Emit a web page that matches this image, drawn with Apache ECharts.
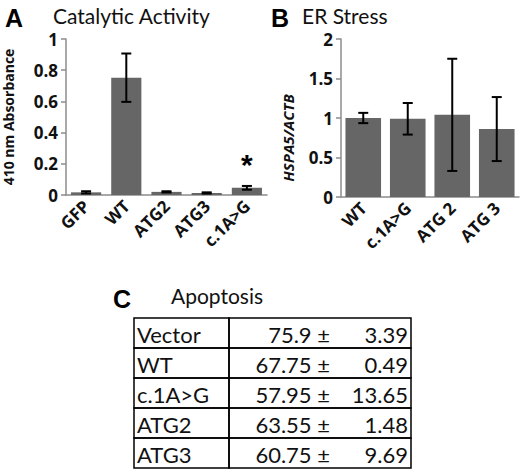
<!DOCTYPE html>
<html>
<head>
<meta charset="utf-8">
<script src="https://cdn.jsdelivr.net/npm/echarts@6/dist/echarts.min.js"></script>
<style>
html, body { margin: 0; padding: 0; background: #fff; }
#main { width: 520px; height: 472px; }
</style>
</head>
<body>
<div id="main"></div>
<script>
// panel A: catalytic activity
var catalyticCats = ['GFP', 'WT', 'ATG2', 'ATG3', 'c.1A>G'];
var catalyticVals = [0.017, 0.752, 0.02, 0.013, 0.046];
var catalyticErr = [0.007, 0.155, 0.004, 0.004, 0.012];
var catalyticSig = ['', '', '', '', '*'];

// panel B: ER stress
var stressCats = ['WT', 'c.1A>G', 'ATG 2', 'ATG 3'];
var stressVals = [1.0, 0.99, 1.04, 0.86];
var stressErr = [0.065, 0.2, 0.71, 0.405];

// panel C: apoptosis table
var apoLabels = ['Vector', 'WT', 'c.1A>G', 'ATG2', 'ATG3'];
var apoMeans = ['75.9', '67.75', '57.95', '63.55', '60.75'];
var apoSD = ['3.39', '0.49', '13.65', '1.48', '9.69'];

var FONT = 'Lato';
var BOLD = 'Open Sans';
var barColor = '#666666';
var axisGray = '#8c8c8c';

var errorBars = function (sig) {
    return function (params, api) {
        var x = api.value(0);
        var v = api.value(1);
        var e = api.value(2);
        var top = api.coord([x, v + e]);
        var bot = api.coord([x, v - e]);
        var cap = 5;
        var st = { stroke: '#000', lineWidth: 2 };
        var children = [
            { type: 'line', shape: { x1: top[0], y1: top[1], x2: bot[0], y2: bot[1] }, style: st },
            { type: 'line', shape: { x1: top[0] - cap, y1: top[1], x2: top[0] + cap, y2: top[1] }, style: st },
            { type: 'line', shape: { x1: bot[0] - cap, y1: bot[1], x2: bot[0] + cap, y2: bot[1] }, style: st }
        ];
        var s = sig ? sig[params.dataIndex] : '';
        if (s) {
            children.push({
                type: 'text',
                style: {
                    x: top[0], y: top[1] - 21, text: s,
                    font: 'bold 30px Arial', fill: '#000',
                    align: 'center', verticalAlign: 'middle'
                }
            });
        }
        return { type: 'group', children: children };
    };
};

var errData = function (vals, errs) {
    return vals.map(function (v, i) { return [i, v, errs[i]]; });
};

var xAxisBase = function (cats, idx) {
    return {
        type: 'category', gridIndex: idx, data: cats,
        axisLine: { lineStyle: { color: axisGray, width: 1.5 } },
        axisTick: { length: 7, lineStyle: { color: axisGray, width: 1.5 } },
        axisLabel: {
            interval: 0, rotate: 45, margin: 8,
            color: '#111', fontWeight: 'bold', fontSize: 17, fontFamily: BOLD
        }
    };
};

var yAxisBase = function (idx, max, interval) {
    return {
        type: 'value', gridIndex: idx, min: 0, max: max, interval: interval,
        axisLine: { show: true, lineStyle: { color: axisGray, width: 1.5 } },
        axisTick: { show: true, length: 5, lineStyle: { color: axisGray, width: 1.5 } },
        splitLine: { show: false },
        axisLabel: { color: '#111', fontWeight: 'bold', fontSize: 17, fontFamily: BOLD, margin: 8 },
        nameLocation: 'middle'
    };
};

// table cells
var tableX = [134, 229, 411];
var tableTop = 318;
var rowH = 30;
var tableGraphics = [];
apoLabels.forEach(function (lab, i) {
    var y = tableTop + i * rowH;
    tableGraphics.push({
        type: 'rect', shape: { x: tableX[0], y: y, width: tableX[1] - tableX[0], height: rowH },
        style: { fill: 'none', stroke: '#000', lineWidth: 1.5 }
    });
    tableGraphics.push({
        type: 'rect', shape: { x: tableX[1], y: y, width: tableX[2] - tableX[1], height: rowH },
        style: { fill: 'none', stroke: '#000', lineWidth: 1.5 }
    });
    tableGraphics.push({
        type: 'text', x: tableX[0] + 3, y: y + rowH / 2 + 1,
        style: { text: lab, font: '22px ' + FONT, fill: '#111', align: 'left', verticalAlign: 'middle' }
    });
    tableGraphics.push({
        type: 'text', x: 330, y: y + rowH / 2 + 1,
        style: { text: apoMeans[i] + ' \u00b1', font: '22px ' + FONT, fill: '#111', align: 'right', verticalAlign: 'middle' }
    });
    tableGraphics.push({
        type: 'text', x: 408, y: y + rowH / 2 + 1,
        style: { text: apoSD[i], font: '22px ' + FONT, fill: '#111', align: 'right', verticalAlign: 'middle' }
    });
});

var option = {
    backgroundColor: '#fff',
    animation: false,
    title: [
        { text: 'A', left: 0, top: 0, textStyle: { fontFamily: 'Arial', fontWeight: 'bold', fontSize: 25, color: '#000' } },
        { text: 'Catalytic Activity', left: 48, top: 0, textStyle: { fontFamily: FONT, fontWeight: 'normal', fontSize: 21, color: '#111' } },
        { text: 'B', left: 266, top: 0, textStyle: { fontFamily: 'Arial', fontWeight: 'bold', fontSize: 25, color: '#000' } },
        { text: 'ER Stress', left: 297, top: 0, textStyle: { fontFamily: FONT, fontWeight: 'normal', fontSize: 21, color: '#111' } },
        { text: 'C', left: 108, top: 281, textStyle: { fontFamily: 'Arial', fontWeight: 'bold', fontSize: 25, color: '#000' } },
        { text: 'Apoptosis', left: 166, top: 280, textStyle: { fontFamily: FONT, fontWeight: 'normal', fontSize: 21, color: '#111' } }
    ],
    grid: [
        { left: 64, top: 39, width: 203, height: 156 },
        { left: 341, top: 39, width: 178, height: 158 }
    ],
    xAxis: [xAxisBase(catalyticCats, 0), xAxisBase(stressCats, 1)],
    yAxis: [
        Object.assign(yAxisBase(0, 1, 0.2), {
            name: '410 nm Absorbance', nameGap: 51,
            nameTextStyle: { fontFamily: BOLD, fontWeight: 'bold', fontSize: 14, color: '#111' }
        }),
        Object.assign(yAxisBase(1, 2, 0.5), {
            name: 'HSPA5/ACTB', nameGap: 46,
            nameTextStyle: { fontFamily: BOLD, fontWeight: 'bold', fontStyle: 'italic', fontSize: 15, color: '#111', padding: [0, 40, 0, 0] }
        })
    ],
    series: [
        {
            type: 'bar', xAxisIndex: 0, yAxisIndex: 0, data: catalyticVals,
            barCategoryGap: '25%', itemStyle: { color: barColor }
        },
        {
            type: 'custom', xAxisIndex: 0, yAxisIndex: 0, z: 5,
            renderItem: errorBars(catalyticSig), data: errData(catalyticVals, catalyticErr)
        },
        {
            type: 'bar', xAxisIndex: 1, yAxisIndex: 1, data: stressVals,
            barCategoryGap: '20%', itemStyle: { color: barColor }
        },
        {
            type: 'custom', xAxisIndex: 1, yAxisIndex: 1, z: 5,
            renderItem: errorBars(null), data: errData(stressVals, stressErr)
        }
    ],
    graphic: tableGraphics
};

var chart = echarts.init(document.getElementById('main'), null, { renderer: 'svg' });
chart.setOption(option);
</script>
</body>
</html>
